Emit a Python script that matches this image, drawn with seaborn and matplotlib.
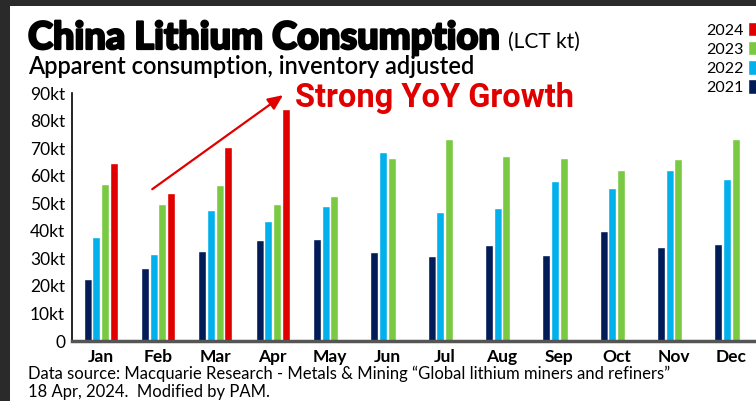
import pandas as pd
import numpy as np
import matplotlib
matplotlib.use("Agg")
import matplotlib.pyplot as plt
import matplotlib.patheffects as pe
from matplotlib.patches import Rectangle
import seaborn as sns

# data (kt LCT)
months = ["Jan", "Feb", "Mar", "Apr", "May", "Jun", "Jul", "Aug", "Sep", "Oct", "Nov", "Dec"]
y2021 = [22.5, 26.5, 32.7, 36.7, 37.1, 32.3, 30.9, 34.9, 31.3, 40.0, 34.2, 35.2]
y2022 = [37.8, 31.6, 47.6, 43.6, 49.1, 68.7, 46.9, 48.3, 58.1, 55.6, 62.1, 58.9]
y2023 = [57.0, 49.8, 56.7, 49.8, 52.7, 66.5, 73.4, 67.2, 66.5, 62.1, 66.1, 73.4]
y2024 = [64.7, 53.8, 70.5, 84.3] + [np.nan] * 8
years = ["2021", "2022", "2023", "2024"]
colors = ["#021c58", "#02b0ec", "#7ac943", "#e00000"]

df = pd.DataFrame({"Month": months * 4,
                   "Year": np.repeat(years, 12),
                   "kt": y2021 + y2022 + y2023 + y2024})

sns.set_style("white")
plt.rcParams['font.family'] = ['Lato', 'DejaVu Sans']
plt.rcParams['text.color'] = 'black'
plt.rcParams['xtick.color'] = 'black'
plt.rcParams['ytick.color'] = 'black'

fig = plt.figure(figsize=(7.56, 4.01), dpi=100, facecolor="#2a2a2a")
fig.patches.append(Rectangle((10 / 756, 0), 1, (401 - 6) / 401, transform=fig.transFigure,
                             facecolor="white", edgecolor="none", zorder=-10))

ax = fig.add_axes([72 / 756, 60 / 401, 688 / 756, 248 / 401])
ax.set_facecolor("white")
sns.barplot(data=df, x="Month", y="kt", hue="Year", hue_order=years,
            palette=colors, width=0.6, gap=0.08, saturation=1, ax=ax)

ax.set_ylim(0, 90)
ax.set_xlim(-0.5, 11.5)
ax.set_yticks(range(0, 91, 10))
ax.set_yticklabels(["0"] + [f"{v}kt" for v in range(10, 91, 10)], fontsize=12.5)
ax.set_xticks(range(12))
ax.set_xticklabels(months, fontsize=12.5, fontweight="bold")
ax.set_xticks(np.arange(-0.5, 12, 1), minor=True)
ax.tick_params(axis="x", which="major", length=0, pad=6)
ax.tick_params(axis="x", which="minor", length=4, width=1.5, color="#333333", direction="out")
ax.tick_params(axis="y", length=4, width=1.2, color="black", direction="out", pad=1)
ax.set_xlabel("")
ax.set_ylabel("")
for s in ["top", "right"]:
    ax.spines[s].set_visible(False)
ax.spines["left"].set_color("black")
ax.spines["left"].set_linewidth(1.2)
ax.spines["bottom"].set_color("#555555")
ax.spines["bottom"].set_linewidth(2.5)

# legend, top right, newest first
handles, labels = ax.get_legend_handles_labels()
ax.legend(handles[::-1], labels[::-1], loc="upper right", bbox_to_anchor=(1.006, 0.945),
          bbox_transform=fig.transFigure, frameon=False, markerfirst=False,
          handlelength=0.8, handleheight=1.0, handletextpad=0.25, labelspacing=0.22,
          fontsize=11.5, borderaxespad=0, borderpad=0)

# arrow + callout
ax.annotate("", xy=(3.22, 89.8), xytext=(0.86, 54.5),
            arrowprops=dict(arrowstyle="-|>,head_length=0.9,head_width=0.4",
                            color="#e00000", lw=1.6), annotation_clip=False)
fig.text(295 / 756, 1 - 98 / 401, "Strong YoY Growth", color="#e00000", fontsize=23.5,
         fontweight="bold", family=["Roboto", "DejaVu Sans"], va="center", ha="left")

# titles
fig.text(28 / 756, 1 - 38 / 401, "China Lithium Consumption", fontsize=27.3, fontweight="black",
         va="center", ha="left",
         path_effects=[pe.withStroke(linewidth=1.6, foreground="black")])
fig.text(508 / 756, 1 - 42 / 401, "(LCT kt)", fontsize=15, va="center", ha="left")
fig.text(28 / 756, 1 - 66 / 401, "Apparent consumption, inventory adjusted", fontsize=17,
         fontweight="semibold", va="center", ha="left")

# footnote
fig.text(28 / 756, 1 - 374 / 401,
         "Data source: Macquarie Research - Metals & Mining \u201cGlobal lithium miners and refiners\u201d",
         fontsize=12, va="center", ha="left")
fig.text(28 / 756, 1 - 392 / 401, "18 Apr, 2024.  Modified by PAM.", fontsize=12,
         va="center", ha="left")

fig.savefig("out.png", dpi=100, facecolor=fig.get_facecolor())
